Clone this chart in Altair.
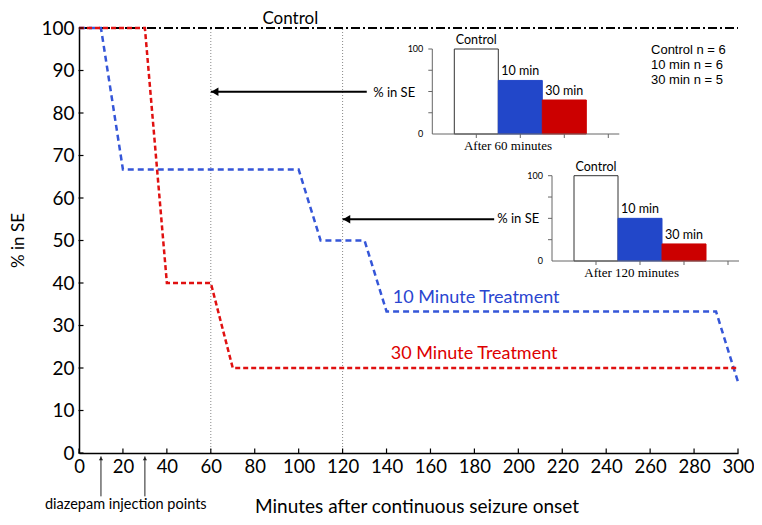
import altair as alt
import pandas as pd

# ---------------- data ----------------
control_x = [0, 300]
control_y = [100, 100]
ten_x = [0, 10, 20, 100, 110, 130, 140, 290, 300]
ten_y = [100, 100, 66.7, 66.7, 50, 50, 33.3, 33.3, 16.7]
thirty_x = [0, 30, 40, 60, 70, 300]
thirty_y = [100, 100, 40, 40, 20, 20]

x_ticks = list(range(0, 301, 20))
y_ticks = list(range(0, 101, 10))
marker_minutes = [60, 120]
injection_minutes = [10, 30]

inset_groups = ["Control", "10 min", "30 min"]
inset_pos = [1, 2, 3]
after60 = [100, 63, 40]
after120 = [100, 50, 20]
inset_fill = ["#ffffff", "#2247c9", "#cc0000"]
inset_stroke = ["#333333", "#2247c9", "#cc0000"]
inset_yticks = [25, 50, 75, 100]
inset_xticks = [1, 2, 3, 4]
n_labels = ["Control n = 6", "10 min n = 6", "30 min n = 5"]

FONT = "Lato"
SERIF = "Liberation Serif"
BLUE = "#3556d8"
RED = "#e01010"

W = 659
XS = alt.Scale(domain=[0, 300], nice=False, zero=False)
YS = alt.Scale(domain=[0, 100], nice=False, zero=False)


def X(f, scale=XS, axis=None):
    return alt.X(f, scale=scale, axis=axis)


def Y(f, scale=YS, axis=None):
    return alt.Y(f, scale=scale, axis=axis)


layers = []

# axes carrier (control line)
ctrl = pd.DataFrame({"t": control_x, "p": control_y})
layers.append(
    alt.Chart(ctrl).mark_line(color="black", strokeDash=[9, 3, 2, 3], strokeWidth=2).encode(
        x=alt.X("t:Q", scale=XS, axis=alt.Axis(values=x_ticks, ticks=False, grid=False, title=None,
                                               domainColor="black", domainWidth=1.5,
                                               labelFont=FONT, labelFontSize=18.5, labelColor="black",
                                               labelPadding=4, labelOverlap=False, labelFlush=False)),
        y=alt.Y("p:Q", scale=YS, axis=alt.Axis(values=y_ticks, ticks=False, grid=False, title=None,
                                               domainColor="black", domainWidth=1.5,
                                               labelFont=FONT, labelFontSize=19, labelColor="black",
                                               labelPadding=5, labelOverlap=False, labelFlush=False)),
    )
)

# vertical dotted markers
mk = pd.DataFrame({"m": marker_minutes, "lo": [0] * 2, "hi": [100] * 2})
layers.append(
    alt.Chart(mk).mark_rule(color="#888888", strokeDash=[1, 2], strokeWidth=1).encode(
        x=X("m:Q"), y=Y("lo:Q"), y2="hi:Q"
    )
)

# treatment lines
for xs, ys, col, dash in [(ten_x, ten_y, BLUE, [6, 4]), (thirty_x, thirty_y, RED, [5, 3])]:
    d = pd.DataFrame({"t": xs, "p": ys})
    layers.append(
        alt.Chart(d).mark_line(color=col, strokeDash=dash, strokeWidth=2.5).encode(
            x=X("t:Q"), y=Y("p:Q")
        )
    )

# inward ticks on main axes
xt = pd.DataFrame({"t": x_ticks, "p": [0] * len(x_ticks)})
layers.append(
    alt.Chart(xt).mark_tick(orient="vertical", size=5, thickness=1.2, color="black", yOffset=-2, opacity=1).encode(
        x=X("t:Q"), y=Y("p:Q")
    )
)
yt = pd.DataFrame({"t": [0] * len(y_ticks), "p": y_ticks})
layers.append(
    alt.Chart(yt).mark_tick(orient="horizontal", size=5, thickness=1.2, color="black", xOffset=2, opacity=1).encode(
        x=X("t:Q"), y=Y("p:Q")
    )
)

# arrows pointing to the marker lines
arr = pd.DataFrame({"a": [131, 189], "b": [60, 120], "p": [85, 55]})
layers.append(
    alt.Chart(arr).mark_rule(color="black", strokeWidth=2).encode(x=X("a:Q"), x2="b:Q", y=Y("p:Q"))
)
layers.append(
    alt.Chart(arr).mark_point(shape="triangle-left", filled=True, color="black", size=70, xOffset=4, opacity=1).encode(
        x=X("b:Q"), y=Y("p:Q")
    )
)

# injection arrows below axis
inj = pd.DataFrame({"t": injection_minutes, "lo": [-10.2] * 2, "hi": [-0.8] * 2, "h": [-1.3] * 2})
layers.append(
    alt.Chart(inj).mark_rule(color="#222222", strokeWidth=1).encode(x=X("t:Q"), y=Y("lo:Q"), y2="hi:Q")
)
layers.append(
    alt.Chart(inj).mark_point(shape="triangle-up", filled=True, color="#222222", size=18, opacity=1).encode(
        x=X("t:Q"), y=Y("h:Q")
    )
)


def text_layer(df, **kw):
    return alt.Chart(df).mark_text(**kw).encode(x=X("t:Q"), y=Y("p:Q"), text="s:N")


# main annotations
layers.append(text_layer(pd.DataFrame({"t": [96.2], "p": [100.95], "s": ["Control"]}),
                         font=FONT, fontSize=17, color="black", baseline="alphabetic"))
layers.append(text_layer(pd.DataFrame({"t": [180.8], "p": [36.5], "s": ["10 Minute Treatment"]}),
                         font=FONT, fontSize=18, color="#2a45d0", baseline="middle"))
layers.append(text_layer(pd.DataFrame({"t": [179.9], "p": [23.3], "s": ["30 Minute Treatment"]}),
                         font=FONT, fontSize=18, color="#dd0000", baseline="middle"))
layers.append(text_layer(pd.DataFrame({"t": [260.4] * 3, "p": [94.8, 91.3, 87.8], "s": n_labels}),
                         font="Liberation Sans", fontSize=13, color="black", align="left", baseline="middle"))
layers.append(text_layer(pd.DataFrame({"t": [133.9, 190.4], "p": [84.8, 55], "s": ["% in SE", "% in SE"]}),
                         font=FONT, fontSize=13, color="black", align="left", baseline="middle"))
layers.append(text_layer(pd.DataFrame({"t": [21.3], "p": [-12.2], "s": ["diazepam injection points"]}),
                         font=FONT, fontSize=14.5, color="black", baseline="middle"))
layers.append(text_layer(pd.DataFrame({"t": [153.9], "p": [-14.0], "s": ["Minutes after continuous seizure onset"]}),
                         font=FONT, fontSize=19, color="black", baseline="alphabetic"))
layers.append(text_layer(pd.DataFrame({"t": [-27.4], "p": [50], "s": ["% in SE"]}),
                         font=FONT, fontSize=17, color="black", baseline="middle", angle=270))


# ---------------- insets ----------------
def inset(values, xrange, yrange, caption, cap_x):
    ix = alt.Scale(domain=[0, 4], range=xrange, nice=False, zero=False)
    iy = alt.Scale(domain=[0, 100], range=yrange, nice=False, zero=False)
    out = []
    bars = pd.DataFrame({"g": inset_groups, "pos": inset_pos, "v": values,
                         "f": inset_fill, "k": inset_stroke})
    base = alt.Chart(bars).transform_calculate(l="datum.pos - 0.5", r="datum.pos + 0.5", z="0")
    out.append(base.mark_rect(strokeWidth=1).encode(
        x=X("l:Q", ix), x2="r:Q", y=Y("z:Q", iy), y2="v:Q",
        color=alt.Color("f:N", scale=None), stroke=alt.Stroke("k:N", scale=None)))
    out.append(base.mark_text(font=FONT, fontSize=12.5, color="black", baseline="bottom", dy=-2).encode(
        x=X("pos:Q", ix), y=Y("v:Q", iy), text="g:N"))
    # axis lines
    ax = pd.DataFrame({"a": [0, 0], "b": [0, 4.25], "c": [0, 0], "d": [100, 0]})
    out.append(alt.Chart(ax).mark_rule(color="#666666", strokeWidth=1).encode(
        x=X("a:Q", ix), x2="b:Q", y=Y("c:Q", iy), y2="d:Q"))
    yt_ = pd.DataFrame({"a": [0] * len(inset_yticks), "c": inset_yticks})
    out.append(alt.Chart(yt_).mark_tick(orient="horizontal", size=4, thickness=1, color="#666666",
                                        xOffset=-2, opacity=1).encode(x=X("a:Q", ix), y=Y("c:Q", iy)))
    xt_ = pd.DataFrame({"a": inset_xticks, "c": [0] * len(inset_xticks)})
    out.append(alt.Chart(xt_).mark_tick(orient="vertical", size=4, thickness=1, color="#666666",
                                        yOffset=2, opacity=1).encode(x=X("a:Q", ix), y=Y("c:Q", iy)))
    lab = pd.DataFrame({"a": [0, 0], "c": [100, 0], "s": ["100", "0"]})
    out.append(alt.Chart(lab).mark_text(font=FONT, fontSize=9, color="black", align="right",
                                        baseline="middle", dx=-9).encode(
        x=X("a:Q", ix), y=Y("c:Q", iy), text="s:N"))
    cap = pd.DataFrame({"a": [cap_x], "c": [0], "s": [caption]})
    out.append(alt.Chart(cap).mark_text(font=SERIF, fontSize=13, color="black", baseline="middle",
                                        dy=12).encode(
        x=X("a:Q", ix), y=Y("c:Q", iy), text="s:N"))
    return out


layers += inset(after60, [353.3, 529.3], [106, 21], "After 60 minutes", 1.72)
layers += inset(after120, [473, 649], [233, 147.7], "After 120 minutes", 1.81)

chart = alt.layer(*layers).resolve_scale(x="independent", y="independent").properties(
    width=W, height=425,
    autosize=alt.AutoSizeParams(type="none"),
    padding={"left": 71, "top": 20, "right": 16, "bottom": 64},
).configure_view(stroke=None)

chart.save("out.html", embed_options={"renderer": "svg", "actions": False})
